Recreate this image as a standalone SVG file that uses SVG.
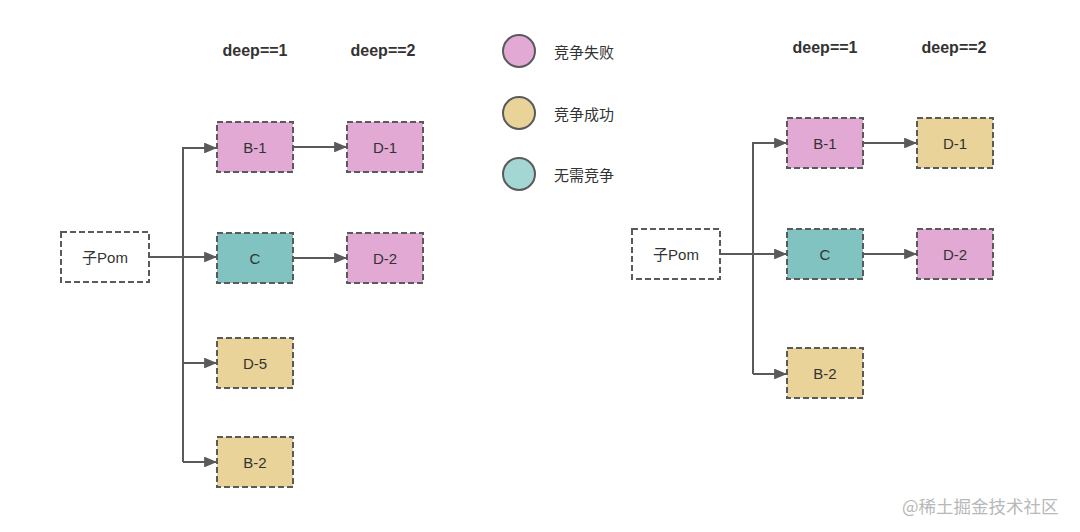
<svg xmlns="http://www.w3.org/2000/svg" width="1080" height="532" viewBox="0 0 1080 532">
<style>
.n{stroke:#5a5a5a;stroke-width:2;stroke-dasharray:6,3}
.p{fill:#e2a9d4}
.y{fill:#e9d398}
.t{fill:#80c3c0}
.w{fill:#fff}
.lbl{font-family:"Liberation Sans","Noto Sans CJK SC",sans-serif;font-size:15px;fill:#333;text-anchor:middle;dominant-baseline:central}
.hd{font-family:"Liberation Sans",sans-serif;font-size:16px;font-weight:bold;fill:#333;text-anchor:middle;dominant-baseline:central}
.lg{font-family:"Noto Sans CJK SC",sans-serif;font-size:15px;fill:#333;dominant-baseline:central}
.c{fill:none;stroke:#5a5a5a;stroke-width:2}
</style>
<defs>
<marker id="ah" viewBox="0 0 12 10" refX="11" refY="5" markerWidth="6.5" markerHeight="5.4" orient="auto" markerUnits="strokeWidth">
<path d="M0,0 L12,5 L0,10 z" fill="#5a5a5a"/>
</marker>
</defs>
<rect width="1080" height="532" fill="#fff"/>
<g id="headers">
<text class="hd" x="255" y="50">deep==1</text>
<text class="hd" x="383" y="50">deep==2</text>
<text class="hd" x="825" y="47">deep==1</text>
<text class="hd" x="954" y="47">deep==2</text>
</g>
<g id="legend">
<circle cx="519" cy="51" r="16" fill="#e2a9d4" stroke="#5a5a5a" stroke-width="2"/>
<text class="lg" x="554" y="51">竞争失败</text>
<circle cx="519" cy="113" r="16" fill="#e9d398" stroke="#5a5a5a" stroke-width="2"/>
<text class="lg" x="554" y="113">竞争成功</text>
<circle cx="519" cy="174" r="16" fill="#a4d6d3" stroke="#5a5a5a" stroke-width="2"/>
<text class="lg" x="554" y="174">无需竞争</text>
</g>
<g id="connectors">
<path class="c" d="M149,257 L216,257" marker-end="url(#ah)"/>
<path class="c" d="M183,462 L183,148 L216,148" marker-end="url(#ah)"/>
<path class="c" d="M183,363 L216,363" marker-end="url(#ah)"/>
<path class="c" d="M183,462 L216,462" marker-end="url(#ah)"/>
<path class="c" d="M293,147 L346,147" marker-end="url(#ah)"/>
<path class="c" d="M293,258 L346,258" marker-end="url(#ah)"/>
<path class="c" d="M720,254 L786,254" marker-end="url(#ah)"/>
<path class="c" d="M753,374 L753,143 L786,143" marker-end="url(#ah)"/>
<path class="c" d="M753,374 L786,374" marker-end="url(#ah)"/>
<path class="c" d="M863,143 L916,143" marker-end="url(#ah)"/>
<path class="c" d="M863,254 L916,254" marker-end="url(#ah)"/>
</g>
<g id="L-pom"><rect class="n w" x="61" y="232" width="88" height="50"/><text class="lbl" x="105" y="257">子Pom</text></g>
<g id="L-B1"><rect class="n p" x="217" y="122" width="76" height="50"/><text class="lbl" x="255" y="147">B-1</text></g>
<g id="L-D1"><rect class="n p" x="347" y="122" width="76" height="50"/><text class="lbl" x="385" y="147">D-1</text></g>
<g id="L-C"><rect class="n t" x="217" y="233" width="76" height="50"/><text class="lbl" x="255" y="258">C</text></g>
<g id="L-D2"><rect class="n p" x="347" y="233" width="76" height="50"/><text class="lbl" x="385" y="258">D-2</text></g>
<g id="L-D5"><rect class="n y" x="217" y="338" width="76" height="50"/><text class="lbl" x="255" y="363">D-5</text></g>
<g id="L-B2"><rect class="n y" x="217" y="437" width="76" height="50"/><text class="lbl" x="255" y="462">B-2</text></g>
<g id="R-pom"><rect class="n w" x="632" y="229" width="88" height="50"/><text class="lbl" x="676" y="254">子Pom</text></g>
<g id="R-B1"><rect class="n p" x="787" y="118" width="76" height="50"/><text class="lbl" x="825" y="143">B-1</text></g>
<g id="R-D1"><rect class="n y" x="917" y="118" width="76" height="50"/><text class="lbl" x="955" y="143">D-1</text></g>
<g id="R-C"><rect class="n t" x="787" y="229" width="76" height="50"/><text class="lbl" x="825" y="254">C</text></g>
<g id="R-D2"><rect class="n p" x="917" y="229" width="76" height="50"/><text class="lbl" x="955" y="254">D-2</text></g>
<g id="R-B2"><rect class="n y" x="787" y="348" width="76" height="50"/><text class="lbl" x="825" y="373">B-2</text></g>
<text x="902" y="505" font-family="'Noto Sans CJK SC',sans-serif" font-size="17.5" fill="#b8b8b8" dominant-baseline="central">@稀土掘金技术社区</text>
</svg>
